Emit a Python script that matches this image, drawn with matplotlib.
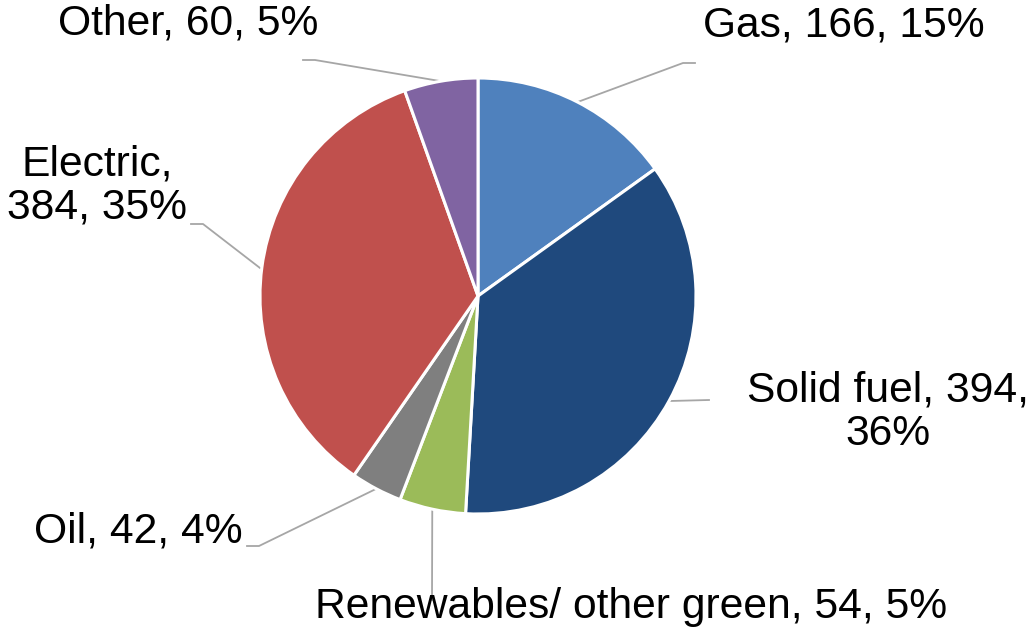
import numpy as np
import matplotlib
matplotlib.use("Agg")
import matplotlib.pyplot as plt

plt.rcParams['font.family'] = ['Liberation Sans', 'DejaVu Sans']

# heating fuel breakdown
labels = ["Gas", "Solid fuel", "Renewables/ other green", "Oil", "Electric", "Other"]
values = [166, 394, 54, 42, 384, 60]
percents = ["15%", "36%", "5%", "4%", "35%", "5%"]
colors = ["#4F81BD", "#1F497D", "#9BBB59", "#7F7F7F", "#C0504D", "#8064A2"]

W, H = 1031, 635
cx, cy, R = 478, 296, 218

fig = plt.figure(figsize=(W / 100, H / 100), dpi=100)
ax = fig.add_axes([(cx - R) / W, (H - cy - R) / H, 2 * R / W, 2 * R / H])

wedges, _ = ax.pie(values, colors=colors, startangle=90, counterclock=False,
                   radius=1, wedgeprops=dict(edgecolor="white", linewidth=2.2))
# pie resets the limits, put them back so radius 1 fills the axes
ax.set_xlim(-1, 1)
ax.set_ylim(-1, 1)
ax.axis("off")


def p2d(px, py):
    # pixel position -> data coords of the pie axes
    return (px - cx) / R, (cy - py) / R


# label text: (centre px, centre py, text)
label_pos = [
    (844, 26, "Gas, 166, 15%"),
    (888, 412, "Solid fuel, 394,\n36%"),
    (631, 607, "Renewables/ other green, 54, 5%"),
    (138, 531, "Oil, 42, 4%"),
    (97, 186, "Electric,\n384, 35%"),
    (188, 23, "Other, 60, 5%"),
]

# leader lines: points after the wedge edge point
leaders = [
    [(683, 63), (695, 63)],
    [(709, 400)],
    [(432, 600)],
    [(259, 546), (247, 546)],
    [(260, 268), (203, 224), (191, 224)],
    [(315, 60), (303, 60)],
]

total = sum(values)
cum = 0
for i, v in enumerate(values):
    mid = 90 - 360 * (cum + v / 2) / total
    cum += v
    ex, ey = np.cos(np.radians(mid)), np.sin(np.radians(mid))
    pts = [(ex, ey)] if i != 4 else []
    pts += [p2d(*p) for p in leaders[i]]
    xs, ys = zip(*pts)
    ax.plot(xs, ys, color="#A6A6A6", lw=1.3, clip_on=False, zorder=0)
    tx, ty = p2d(label_pos[i][0], label_pos[i][1])
    ax.text(tx, ty, label_pos[i][2], ha="center", va="center", fontsize=30.7,
            color="black", multialignment="center", linespacing=1.1, clip_on=False)

fig.savefig("out.png", dpi=100)
